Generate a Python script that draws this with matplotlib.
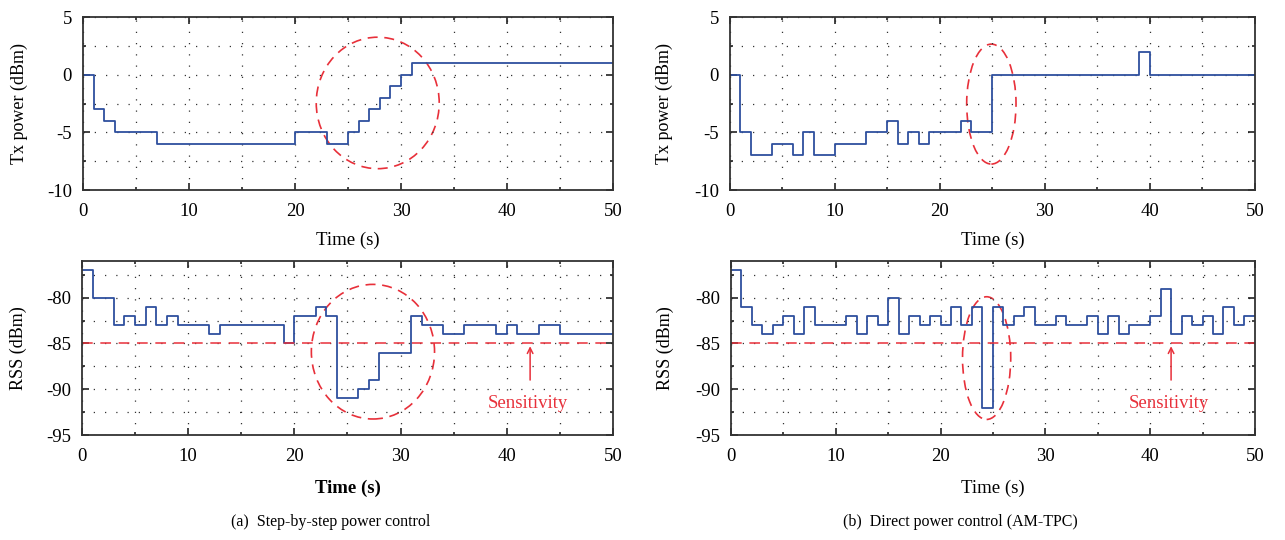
import numpy as np
import matplotlib.pyplot as plt
from matplotlib.patches import Ellipse
from matplotlib.ticker import MultipleLocator

plt.rcParams['font.family'] = ['Liberation Serif', 'DejaVu Serif']
plt.rcParams['axes.unicode_minus'] = False

# step-by-step power control (a)
tx_a_t = [0, 1, 2, 3, 7, 20, 23, 25, 26, 27, 28, 29, 30, 31, 50]
tx_a_v = [0, -3, -4, -5, -6, -5, -6, -5, -4, -3, -2, -1, 0, 1, 1]
rss_a_t = [0, 1, 3, 4, 5, 6, 7, 8, 9, 12, 13, 19, 20, 22, 23, 24, 26, 27, 28,
           31, 32, 34, 36, 39, 40, 41, 43, 45, 50]
rss_a_v = [-77, -80, -83, -82, -83, -81, -83, -82, -83, -84, -83, -85, -82, -81,
           -82, -91, -90, -89, -86, -82, -83, -84, -83, -84, -83, -84, -83, -84, -84]

# direct power control (b)
tx_b_t = [0, 1, 2, 4, 6, 7, 8, 10, 13, 15, 16, 17, 18, 19, 22, 23, 25, 39, 40, 50]
tx_b_v = [0, -5, -7, -6, -7, -5, -7, -6, -5, -4, -6, -5, -6, -5, -4, -5, 0, 2, 0, 0]
rss_b_t = [0, 1, 2, 3, 4, 5, 6, 7, 8, 11, 12, 13, 14, 15, 16, 17, 18, 19, 20, 21,
           22, 23, 24, 25, 26, 27, 28, 29, 31, 32, 34, 35, 36, 37, 38, 40, 41, 42,
           43, 44, 45, 46, 47, 48, 49, 50]
rss_b_v = [-77, -81, -83, -84, -83, -82, -84, -81, -83, -82, -84, -82, -83, -80,
           -84, -82, -83, -82, -83, -81, -83, -81, -92, -81, -83, -82, -81, -83,
           -82, -83, -82, -84, -82, -84, -83, -82, -79, -84, -82, -83, -82, -84,
           -81, -83, -82, -82]

sensitivity = -85
captions = ['(a)  Step-by-step power control', '(b)  Direct power control (AM-TPC)']

blue = '#2e4f9e'
red = '#e8303a'

fig = plt.figure(figsize=(12.85, 5.4), dpi=100)
ax_tl = fig.add_axes([0.0646, 0.6481, 0.4125, 0.3204])
ax_tr = fig.add_axes([0.5680, 0.6481, 0.4086, 0.3204])
ax_bl = fig.add_axes([0.0638, 0.1944, 0.4132, 0.3222])
ax_br = fig.add_axes([0.5688, 0.1944, 0.4078, 0.3222])


def style(ax, ylim, ymajor, yminor):
    ax.set_xlim(0, 50)
    ax.set_ylim(*ylim)
    ax.xaxis.set_major_locator(MultipleLocator(10))
    ax.xaxis.set_minor_locator(MultipleLocator(5))
    ax.yaxis.set_major_locator(MultipleLocator(ymajor))
    ax.yaxis.set_minor_locator(MultipleLocator(yminor))
    ax.tick_params(which='both', direction='in', top=True, right=True,
                   labelsize=13.5, width=1.2, color='#222222')
    ax.tick_params(which='major', length=5)
    ax.tick_params(which='minor', length=2.5)
    ax.tick_params(axis='x', pad=9)
    ax.tick_params(axis='y', pad=8)
    ax.grid(which='both', linestyle=(0, (1, 8)), color='#333333', linewidth=0.9)
    for s in ax.spines.values():
        s.set_linewidth(1.3)
        s.set_color('#333333')


for ax, t, v in [(ax_tl, tx_a_t, tx_a_v), (ax_tr, tx_b_t, tx_b_v)]:
    style(ax, (-10, 5), 5, 2.5)
    ax.step(t, v, where='post', color=blue, linewidth=1.3)
    ax.set_ylabel('Tx power (dBm)', fontsize=13)
    ax.set_xlabel('Time (s)', fontsize=13.5, labelpad=9)

for ax, t, v in [(ax_bl, rss_a_t, rss_a_v), (ax_br, rss_b_t, rss_b_v)]:
    style(ax, (-95, -76), 5, 2.5)
    ax.step(t, v, where='post', color=blue, linewidth=1.3)
    ax.axhline(sensitivity, color=red, linestyle=(0, (7, 5)), linewidth=1.1)
    ax.set_ylabel('RSS (dBm)', fontsize=13)

ax_bl.set_xlabel('Time (s)', fontsize=13.5, fontweight='bold', labelpad=11)
ax_br.set_xlabel('Time (s)', fontsize=13.5, labelpad=11)

ax_tl.yaxis.set_label_coords(-0.103, 0.5)
ax_bl.yaxis.set_label_coords(-0.103, 0.5)
ax_tr.yaxis.set_label_coords(-0.108, 0.5)
ax_br.yaxis.set_label_coords(-0.108, 0.5)

# highlighted regions
ell = dict(fill=False, edgecolor=red, linestyle=(0, (6, 4)), linewidth=1.2)
ax_tl.add_patch(Ellipse((27.8, -2.45), 11.6, 11.4, **ell))
ax_bl.add_patch(Ellipse((27.4, -85.9), 11.6, 14.7, **ell))
ax_tr.add_patch(Ellipse((24.9, -2.55), 4.7, 10.4, **ell))
ax_br.add_patch(Ellipse((24.4, -86.6), 4.6, 13.4, **ell))

for ax, xa in [(ax_bl, 42.2), (ax_br, 42.0)]:
    ax.annotate('', xy=(xa, sensitivity), xytext=(xa, -89.3),
                arrowprops=dict(arrowstyle='->', color=red, lw=1.1))
    ax.text(xa - 0.2, -91.6, 'Sensitivity', color=red, fontsize=13.5,
            ha='center', va='center')

fig.text(0.257, 0.033, captions[0], fontsize=11.5, ha='center', va='center')
fig.text(0.747, 0.033, captions[1], fontsize=11.5, ha='center', va='center')

fig.savefig('out.png', dpi=100)
